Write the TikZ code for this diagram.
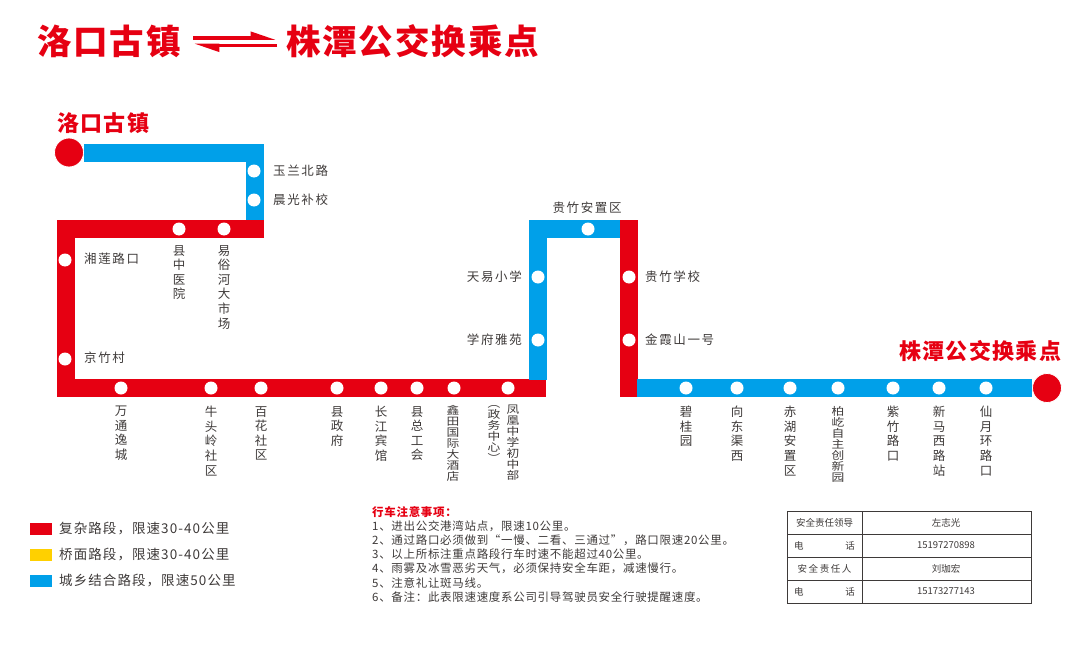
\documentclass[tikz,border=0pt]{standalone}
\usepackage{fontspec}
\setmainfont{Noto Sans CJK SC}
\usepackage{tikz}
\usetikzlibrary{arrows.meta}
\definecolor{routered}{HTML}{E60012}
\definecolor{routeblue}{HTML}{00A0E9}
\definecolor{routeyellow}{HTML}{FFD000}
\definecolor{labelgray}{HTML}{3E3A39}
\tikzstyle{route} = [line width=18pt, line join=miter]
\tikzstyle{stop} = [circle, fill=white, inner sep=0pt, minimum size=13pt]
\tikzstyle{terminal} = [circle, fill=routered, draw=white, line width=0.8pt, inner sep=0pt, minimum size=29pt]
\tikzstyle{flow} = [draw=routered, line width=3.8pt, -{Triangle[harpoon,length=20pt,width=12pt]}]
\tikzstyle{headline} = [text=routered, inner sep=0pt, font=\fontsize{34.5}{36}\bfseries\selectfont\addfontfeature{LetterSpace=5.5}]
\tikzstyle{endname} = [text=routered, inner sep=0pt, font=\fontsize{22}{24}\bfseries\selectfont\addfontfeature{LetterSpace=6}]
\tikzstyle{hlabel} = [text=labelgray, inner sep=0pt, font=\fontsize{12.5}{15}\selectfont\addfontfeature{LetterSpace=13}]
\tikzstyle{vlabel} = [text=labelgray, inner sep=0pt, anchor=north, align=center, font=\fontsize{12.5}{14.6}\selectfont]
\tikzstyle{vsmall} = [text=labelgray, inner sep=0pt, anchor=north, align=center, font=\fontsize{10.8}{11}\selectfont\addfontfeature{FakeStretch=1.18}]
\tikzstyle{swatch} = [inner sep=0pt, minimum width=22pt, minimum height=12pt]
\tikzstyle{legendtext} = [text=labelgray, inner sep=0pt, anchor=west, font=\fontsize{13.5}{15}\selectfont\addfontfeature{LetterSpace=8}]
\tikzstyle{cell} = [text=labelgray, inner sep=0pt, font=\fontsize{9.5}{12}\selectfont]
\tikzstyle{grid} = [draw=labelgray, line width=0.9pt]
\begin{document}
\begin{tikzpicture}[x=1pt, y=-1pt]
    \useasboundingbox (0, 0) rectangle (1080, 645);
    % title
    \node [headline, anchor=west] (title A) at (37, 41) {洛口古镇};
    \node [headline, anchor=west] (title B) at (286, 41) {株潭公交换乘点};
    \coordinate (up left) at (193, 38);
    \coordinate (up right) at (277, 38);
    \coordinate (low right) at (277, 45.5);
    \coordinate (low left) at (193, 45.5);
    \draw [flow] (up left) to (up right);
    \draw [flow] (low right) to (low left);
    % route
    \node [terminal] (start) at (69, 152.5) {};
    \node [terminal] (end) at (1047, 388) {};
    \coordinate (A) at (255, 152.5);
    \coordinate (B) at (255, 221);
    \coordinate (C) at (264, 229);
    \coordinate (D) at (65.5, 229);
    \coordinate (E) at (65.5, 388);
    \coordinate (F) at (546, 388);
    \coordinate (G) at (538, 380);
    \coordinate (H) at (538, 229);
    \coordinate (I) at (621, 229);
    \coordinate (J) at (629, 220);
    \coordinate (K) at (629, 397);
    \coordinate (L) at (637, 388);
    \draw [route, routeblue] (start) -- (A) -- (B);
    \draw [route, routered] (C) -- (D) -- (E) -- (F);
    \draw [route, routeblue] (G) -- (H) -- (I);
    \draw [route, routered] (J) -- (K);
    \draw [route, routeblue] (L) -- (end);
    \node [endname, anchor=west] (name start) at (57, 123) {洛口古镇};
    \node [endname, anchor=west] (name end) at (899, 351) {株潭公交换乘点};
    % stops
    \node [stop] (s1) at (254, 171) {};
    \node [stop] (s2) at (254, 200) {};
    \node [stop] (s3) at (179, 229) {};
    \node [stop] (s4) at (224, 229) {};
    \node [stop] (s5) at (65, 260) {};
    \node [stop] (s6) at (65, 359) {};
    \node [stop] (s7) at (121, 388) {};
    \node [stop] (s8) at (211, 388) {};
    \node [stop] (s9) at (261, 388) {};
    \node [stop] (s10) at (337, 388) {};
    \node [stop] (s11) at (381, 388) {};
    \node [stop] (s12) at (417, 388) {};
    \node [stop] (s13) at (454, 388) {};
    \node [stop] (s14) at (508, 388) {};
    \node [stop] (s15) at (538, 340) {};
    \node [stop] (s16) at (538, 277) {};
    \node [stop] (s17) at (588, 229) {};
    \node [stop] (s18) at (629, 277) {};
    \node [stop] (s19) at (629, 340) {};
    \node [stop] (s20) at (686, 388) {};
    \node [stop] (s21) at (737, 388) {};
    \node [stop] (s22) at (790, 388) {};
    \node [stop] (s23) at (838, 388) {};
    \node [stop] (s24) at (893, 388) {};
    \node [stop] (s25) at (939, 388) {};
    \node [stop] (s26) at (986, 388) {};
    % stop names
    \node [hlabel, anchor=west] (label s1) at (273, 171) {玉兰北路};
    \node [hlabel, anchor=west] (label s2) at (273, 200) {晨光补校};
    \node [vlabel] (label s3) at (179, 245) {县\\中\\医\\院};
    \node [vlabel] (label s4) at (224, 245) {易\\俗\\河\\大\\市\\场};
    \node [hlabel, anchor=west] (label s5) at (84, 259) {湘莲路口};
    \node [hlabel, anchor=west] (label s6) at (84, 358) {京竹村};
    \node [vlabel] (label s7) at (121, 406) {万\\通\\逸\\城};
    \node [vlabel] (label s8) at (211, 406) {牛\\头\\岭\\社\\区};
    \node [vlabel] (label s9) at (261, 406) {百\\花\\社\\区};
    \node [vlabel] (label s10) at (337, 406) {县\\政\\府};
    \node [vlabel] (label s11) at (381, 406) {长\\江\\宾\\馆};
    \node [vlabel] (label s12) at (417, 406) {县\\总\\工\\会};
    \node [vsmall] (label s13) at (453, 405) {鑫\\田\\国\\际\\大\\酒\\店};
    \node [vsmall] (label s14) at (513, 405) {凤\\凰\\中\\学\\初\\中\\部};
    \node [vsmall] (label s14b) at (494, 405) {︵\\政\\务\\中\\心\\︶};
    \node [hlabel, anchor=east] (label s15) at (522, 340) {学府雅苑};
    \node [hlabel, anchor=east] (label s16) at (522, 277) {天易小学};
    \node [hlabel] (label s17) at (587, 208) {贵竹安置区};
    \node [hlabel, anchor=west] (label s18) at (645, 277) {贵竹学校};
    \node [hlabel, anchor=west] (label s19) at (645, 340) {金霞山一号};
    \node [vlabel] (label s20) at (686, 406) {碧\\桂\\园};
    \node [vlabel] (label s21) at (737, 406) {向\\东\\渠\\西};
    \node [vlabel] (label s22) at (790, 406) {赤\\湖\\安\\置\\区};
    \node [vsmall] (label s23) at (838, 406) {柏\\屹\\自\\主\\创\\新\\园};
    \node [vlabel] (label s24) at (893, 406) {紫\\竹\\路\\口};
    \node [vlabel] (label s25) at (939, 406) {新\\马\\西\\路\\站};
    \node [vlabel] (label s26) at (986, 406) {仙\\月\\环\\路\\口};
    % legend
    \node [swatch, fill=routered] (key red) at (41, 529) {};
    \node [swatch, fill=routeyellow] (key yellow) at (41, 555) {};
    \node [swatch, fill=routeblue] (key blue) at (41, 581) {};
    \node [legendtext] (text red) at (59, 529) {复杂路段，限速30-40公里};
    \node [legendtext] (text yellow) at (59, 555) {桥面路段，限速30-40公里};
    \node [legendtext] (text blue) at (59, 581) {城乡结合路段，限速50公里};
    % notes
    \node [anchor=north west, align=left, inner sep=0pt, text=labelgray,
           font=\fontsize{11.5}{14.2}\selectfont\addfontfeature{LetterSpace=6}] (notes) at (372, 506) {%
      \textcolor{routered}{\bfseries 行车注意事项：}\\
      1、进出公交港湾站点，限速10公里。\\
      2、通过路口必须做到“一慢、二看、三通过”，路口限速20公里。\\
      3、以上所标注重点路段行车时速不能超过40公里。\\
      4、雨雾及冰雪恶劣天气，必须保持安全车距，减速慢行。\\
      5、注意礼让斑马线。\\
      6、备注：此表限速速度系公司引导驾驶员安全行驶提醒速度。};
    % duty table
    \draw [grid] (787, 511) rectangle (1031, 603);
    \draw [grid] (862, 511) -- (862, 603);
    \draw [grid] (787, 534) -- (1031, 534);
    \draw [grid] (787, 557) -- (1031, 557);
    \draw [grid] (787, 580) -- (1031, 580);
    \node [cell] (duty A) at (824.5, 522.5) {安全责任领导};
    \node [cell] (duty B) at (946, 522.5) {左志光};
    \node [cell, anchor=west] (duty C) at (794, 545.5) {电};
    \node [cell, anchor=east] (duty D) at (855, 545.5) {话};
    \node [cell] (duty E) at (946, 545.5) {15197270898};
    \node [cell] (duty F) at (824.5, 568.5) {安\,全\,责\,任\,人};
    \node [cell] (duty G) at (946, 568.5) {刘珈宏};
    \node [cell, anchor=west] (duty H) at (794, 591.5) {电};
    \node [cell, anchor=east] (duty I) at (855, 591.5) {话};
    \node [cell] (duty J) at (946, 591.5) {15173277143};
\end{tikzpicture}
\end{document}
